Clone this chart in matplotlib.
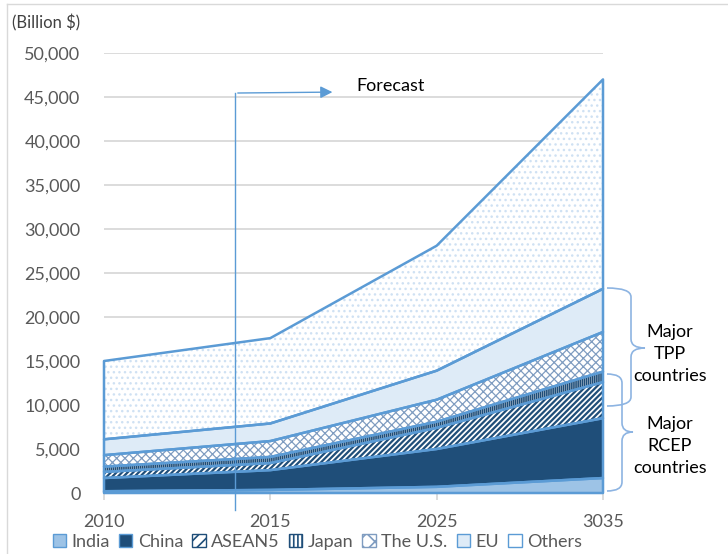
import numpy as np
import matplotlib
matplotlib.use('Agg')
import matplotlib.pyplot as plt
from matplotlib.patches import Patch, PathPatch
from matplotlib.path import Path
from matplotlib.lines import Line2D
from matplotlib.ticker import FuncFormatter

# datos (miles de millones de USD)
years = ['2010', '2015', '2025', '3035']
series = ['India', 'China', 'ASEAN5', 'Japan', 'The U.S.', 'EU', 'Others']
india = [200, 350, 700, 1700]
china = [1500, 2250, 4300, 6800]
asean5 = [700, 800, 2400, 4100]
japan = [600, 700, 700, 1200]
usa = [1300, 1800, 2500, 4500]
eu = [1800, 2000, 3300, 4900]
others = [8900, 9700, 14200, 23800]

BORDE = '#5B9BD5'
GRIS = '#595959'

plt.rcParams['font.family'] = ['Lato', 'DejaVu Sans']
plt.rcParams['hatch.linewidth'] = 1.2

fig = plt.figure(figsize=(7.28, 5.54), dpi=100)
ax = fig.add_axes([104 / 728, 1 - 493 / 554, 499 / 728, 440 / 554])

x = np.arange(len(years))
valores = [india, china, asean5, japan, usa, eu, others]
# relleno, trama, color de trama, grosor de trama
estilos = [
    ('#9DC3E6', None, '#9DC3E6', 1.0),
    ('#1F4E79', None, '#1F4E79', 1.0),
    ('white', '//////', '#1F4E79', 1.6),
    ('white', '||||||||', '#1F4E79', 1.2),
    ('white', 'xxxx', '#7F9CC0', 0.9),
    ('#DEEBF7', None, '#DEEBF7', 1.0),
    ('white', '...', '#CFE1F3', 1.0),
]

base = np.zeros(len(years))
handles = []
for vals, (fc, hatch, hc, hlw), name in zip(valores, estilos, series):
    top = base + np.array(vals)
    relleno = ax.fill_between(x, base, top, facecolor=fc, edgecolor=hc, hatch=hatch,
                              lw=0, zorder=2)
    if hasattr(relleno, 'set_hatch_linewidth'):
        relleno.set_hatch_linewidth(hlw)
    ax.fill_between(x, base, top, facecolor='none', edgecolor=BORDE, lw=1.8,
                    zorder=3, clip_on=False)
    if hatch is None or hatch == '...':
        handles.append(Patch(facecolor=fc, edgecolor=BORDE, lw=1, label=name))
    else:
        handles.append(Patch(facecolor=fc, edgecolor=hc, hatch=hatch[:len(hatch) // 2],
                             lw=1, label=name))
    base = top

ax.set_xlim(0, 3)
ax.set_ylim(0, 50000)
ax.set_xticks(x)
ax.set_xticklabels(years)
ax.set_yticks(np.arange(0, 50001, 5000))
ax.yaxis.set_major_formatter(FuncFormatter(lambda v, p: '{:,.0f}'.format(v)))
ax.yaxis.grid(True, color='#D9D9D9', lw=1.3)
ax.set_axisbelow(True)
for s in ['left', 'top', 'right']:
    ax.spines[s].set_visible(False)
ax.spines['bottom'].set_color('#D9D9D9')
ax.spines['bottom'].set_linewidth(1.3)
ax.tick_params(axis='y', length=0, pad=17, labelsize=13, labelcolor=GRIS)
ax.tick_params(axis='x', length=5, color='#D9D9D9', width=1.3, pad=10,
               labelsize=13, labelcolor=GRIS)

# flecha de pronostico
ax.plot([0.7876, 0.7876], [-1900, 45450], color=BORDE, lw=1, clip_on=False, zorder=5)
ax.annotate('', xy=(1.39, 45560), xytext=(0.7876, 45450),
            arrowprops=dict(arrowstyle='-|>', color=BORDE, lw=1, mutation_scale=18),
            zorder=5)
ax.text(1.72, 46300, 'Forecast', fontsize=13, color='black', ha='center', va='center')

ax.text(-92 / 499 * 3, 53400, '(Billion $)', fontsize=12, color='#404040',
        ha='left', va='center', transform=ax.transData)


def px(xp, yp):
    return (xp / 100, (554 - yp) / 100)


def llave(x0, xs, xt, ytop, ytip, ybot, r=9):
    verts = [px(x0, ytop), px(xs, ytop), px(xs, ytop + r),
             px(xs, ytip - r), px(xs, ytip), px(xt, ytip),
             px(xs, ytip), px(xs, ytip + r),
             px(xs, ybot - r), px(xs, ybot), px(x0, ybot)]
    codes = [Path.MOVETO, Path.CURVE3, Path.CURVE3,
             Path.LINETO, Path.CURVE3, Path.CURVE3,
             Path.CURVE3, Path.CURVE3,
             Path.LINETO, Path.CURVE3, Path.CURVE3]
    fig.add_artist(PathPatch(Path(verts, codes), facecolor='none', edgecolor='#8DB4E2',
                             lw=1.2, transform=fig.dpi_scale_trans))


llave(607, 631, 645, 288, 348, 406)
llave(607, 622, 633, 374, 432, 491)

fig.text(670 / 728, 1 - 354 / 554, 'Major\nTPP\ncountries', fontsize=13, ha='center',
         va='center', linespacing=1.45, color='black')
fig.text(670 / 728, 1 - 446 / 554, 'Major\nRCEP\ncountries', fontsize=13, ha='center',
         va='center', linespacing=1.45, color='black')

# borde del area del grafico
fig.add_artist(Line2D([7 / 728, 7 / 728], [0, 1 - 4 / 554], color='#D9D9D9', lw=1))
fig.add_artist(Line2D([7 / 728, 1], [1 - 4 / 554, 1 - 4 / 554], color='#D9D9D9', lw=1))

fig.legend(handles=handles, loc='center', bbox_to_anchor=(0.436, 1 - 542 / 554), ncol=7,
           frameon=False, fontsize=13, labelcolor=GRIS, handlelength=0.75, handleheight=0.75,
           handletextpad=0.3, columnspacing=0.5, borderaxespad=0)

fig.savefig('out.png', dpi=100)
